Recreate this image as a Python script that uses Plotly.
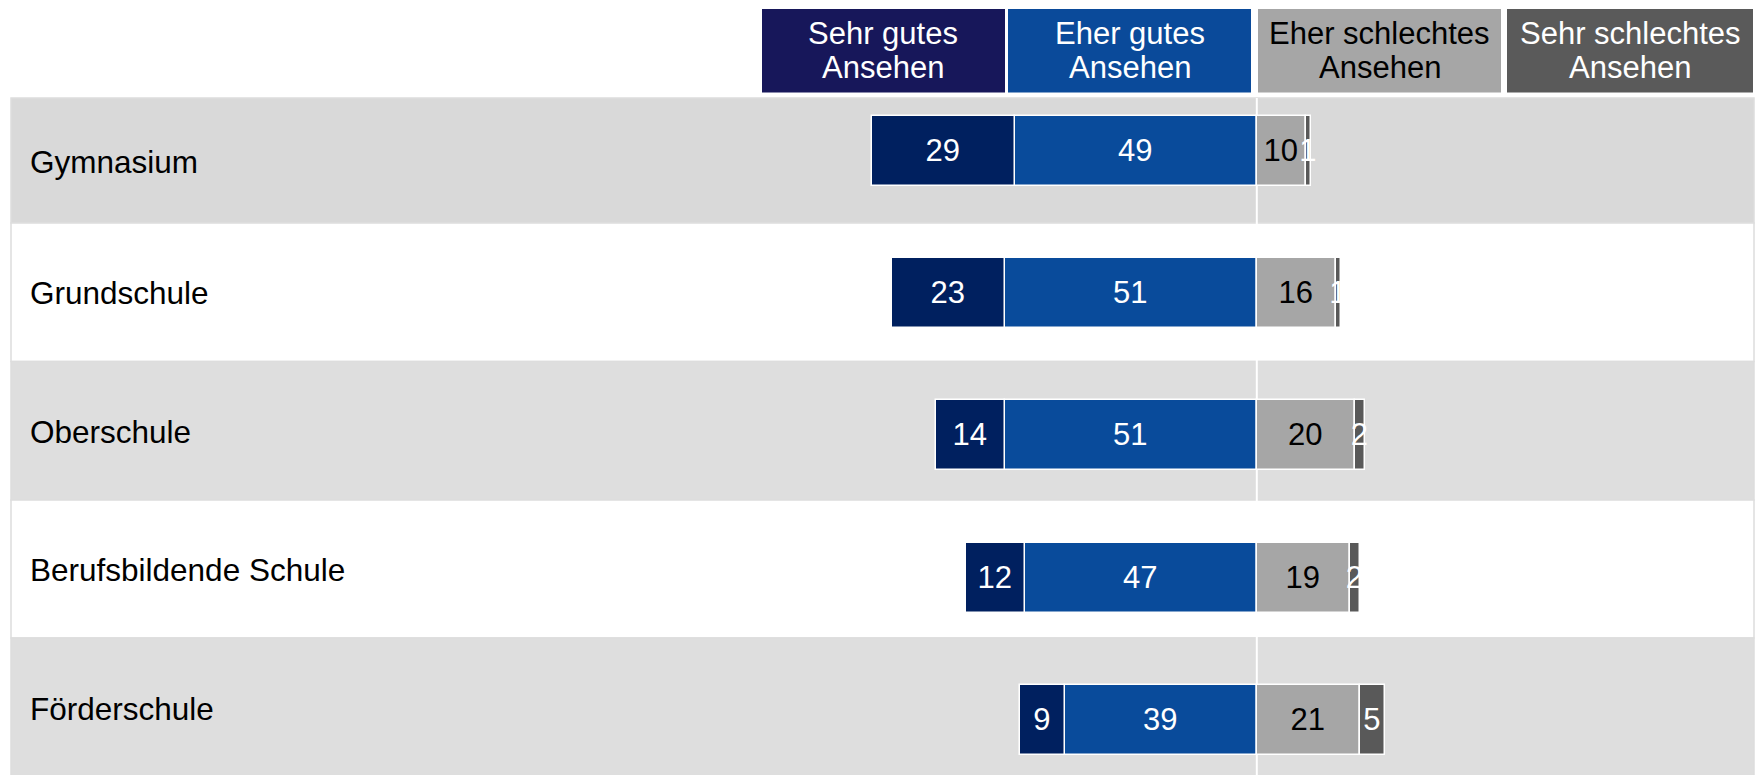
import plotly.graph_objects as go

# ---------------- data ----------------
schools = ["Gymnasium", "Grundschule", "Oberschule", "Berufsbildende Schule", "Förderschule"]
sehr_gutes = [29, 23, 14, 12, 9]
eher_gutes = [49, 51, 51, 47, 39]
eher_schlechtes = [10, 16, 20, 19, 21]
sehr_schlechtes = [1, 1, 2, 2, 5]
header_line1 = ["Sehr gutes", "Eher gutes", "Eher schlechtes", "Sehr schlechtes"]
header_line2 = ["Ansehen", "Ansehen", "Ansehen", "Ansehen"]

# ---------------- styling / layout constants ----------------
W, H = 1756, 775
FONT = "Liberation Sans, Arial, sans-serif"
C_SG, C_EG, C_ES, C_SS = "#00205f", "#094b9b", "#a6a6a6", "#595959"
HEADER_FILL = ["#17175a", "#0a4a9a", "#a6a6a6", "#5a5a5a"]
HEADER_TEXT = ["white", "white", "black", "white"]
HEADER_X = [(762, 1005), (1008, 1251), (1258, 1501), (1507, 1753)]
HEADER_Y = (9, 92.5)
HEADER_LINE_Y = (33.5, 67.5)
BAND_EDGES = [98, 223, 361.5, 500, 638, 777]
BAND_FILL = ["#d9d9d9", "#ffffff", "#dedede", "#ffffff", "#dedede"]
BAND_X = (11, 1754)
ZERO_PX = 1256.8
PX_PER_UNIT = 4.93
ROW0_PX = 150.5
ROW_STEP_PX = 142.4
BAR_H_PX = 70

def px_x(p):
    return p / W

def px_y(p):
    return 1 - p / H

rows = list(range(len(schools)))

fig = go.Figure()

def add_bar(vals, sign, color, txtcolor, name):
    fig.add_trace(go.Bar(
        y=rows, x=[sign * v for v in vals], orientation="h", name=name,
        marker=dict(color=color, line=dict(color="white", width=1.5)),
        width=BAR_H_PX / ROW_STEP_PX,
        text=[str(v) for v in vals], textposition="inside", insidetextanchor="middle",
        textfont=dict(color=txtcolor, size=31, family=FONT),
        constraintext="none", cliponaxis=False,
        hoverinfo="skip",
    ))

# negative side stacks outward from zero: first "Eher gutes", then "Sehr gutes"
add_bar(eher_gutes, -1, C_EG, "white", "Eher gutes Ansehen")
add_bar(sehr_gutes, -1, C_SG, "white", "Sehr gutes Ansehen")
add_bar(eher_schlechtes, 1, C_ES, "black", "Eher schlechtes Ansehen")
add_bar(sehr_schlechtes, 1, C_SS, "white", "Sehr schlechtes Ansehen")

shapes = []
# row bands
for i in range(len(schools)):
    shapes.append(dict(type="rect", xref="paper", yref="paper",
                       x0=px_x(BAND_X[0]), x1=px_x(BAND_X[1]),
                       y0=px_y(BAND_EDGES[i]), y1=px_y(BAND_EDGES[i + 1]),
                       fillcolor=BAND_FILL[i], line=dict(color="#dddddd", width=1.5),
                       layer="below"))
# white zero line
shapes.append(dict(type="line", xref="x", yref="paper", x0=0, x1=0,
                   y0=px_y(BAND_EDGES[0]), y1=0,
                   line=dict(color="white", width=2), layer="below"))
# header boxes
for j in range(4):
    shapes.append(dict(type="rect", xref="paper", yref="paper",
                       x0=px_x(HEADER_X[j][0]), x1=px_x(HEADER_X[j][1]),
                       y0=px_y(HEADER_Y[1]), y1=px_y(HEADER_Y[0]),
                       fillcolor=HEADER_FILL[j], line=dict(width=0), layer="above"))

annotations = []
for j in range(4):
    xc = px_x((HEADER_X[j][0] + HEADER_X[j][1]) / 2)
    for line_txt, ly in ((header_line1[j], HEADER_LINE_Y[0]), (header_line2[j], HEADER_LINE_Y[1])):
        annotations.append(dict(text=line_txt, x=xc, y=px_y(ly), xref="paper", yref="paper",
                                xanchor="center", yanchor="middle", showarrow=False,
                                font=dict(size=31, color=HEADER_TEXT[j], family=FONT)))
for i, s in enumerate(schools):
    yc = (BAND_EDGES[i] + BAND_EDGES[i + 1]) / 2 + 1
    annotations.append(dict(text=s, x=px_x(28), y=px_y(yc), xref="paper", yref="paper",
                            xanchor="left", yanchor="middle", showarrow=False,
                            font=dict(size=31.5, color="black", family=FONT)))

fig.update_layout(
    width=W, height=H,
    margin=dict(l=0, r=0, t=0, b=0, pad=0),
    paper_bgcolor="white", plot_bgcolor="rgba(0,0,0,0)",
    barmode="relative", bargap=0,
    showlegend=False,
    uniformtext=dict(minsize=31, mode="show"),
    xaxis=dict(range=[-ZERO_PX / PX_PER_UNIT, (W - ZERO_PX) / PX_PER_UNIT],
               visible=False, showgrid=False, zeroline=False, fixedrange=True),
    yaxis=dict(range=[(H - ROW0_PX) / ROW_STEP_PX, -ROW0_PX / ROW_STEP_PX],
               visible=False, showgrid=False, zeroline=False, fixedrange=True),
    shapes=shapes, annotations=annotations,
    font=dict(family=FONT),
)

fig.write_html("out.html", config={"displayModeBar": False},
               post_script="document.body.style.margin='0';document.body.style.overflow='hidden';")
